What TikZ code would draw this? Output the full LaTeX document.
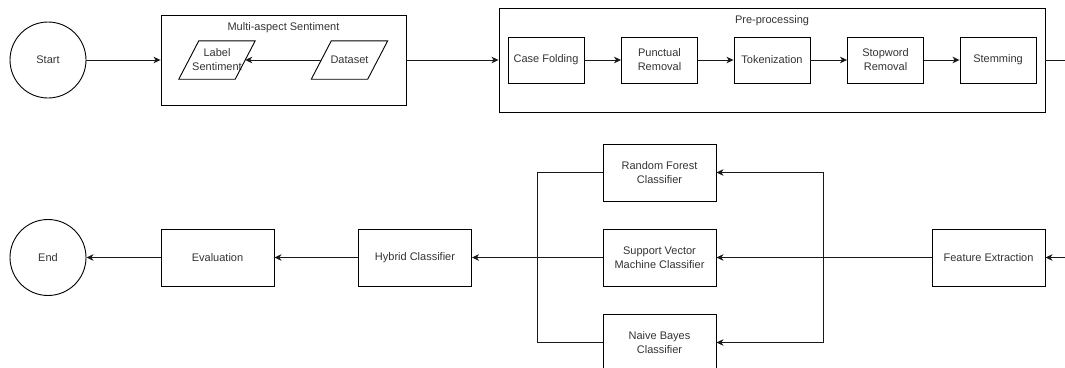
\documentclass[tikz,border=0pt]{standalone}
\usepackage{fontspec}
\setmainfont{Liberation Sans}
\usetikzlibrary{arrows.meta}
\begin{document}
\begin{tikzpicture}[x=1pt,y=-1pt,
  every node/.style={font=\fontsize{11}{14}\selectfont, text=black!80, align=center, inner sep=0pt},
  proc/.style={draw, line width=0.9pt, minimum width=76pt, minimum height=46pt},
  bigproc/.style={draw, line width=0.9pt, minimum width=113pt, minimum height=57pt},
  term/.style={draw, circle, line width=0.9pt, minimum size=76pt},
  grp/.style={draw, line width=0.9pt},
  para/.style={minimum width=76pt, minimum height=38pt},
  conn/.style={line width=0.9pt, draw=black!90},
  arr/.style={conn, -{Stealth[length=7pt,width=6.5pt,inset=2pt]}}
]
\useasboundingbox (0,0) rectangle (1065,367);
\clip (0,0) rectangle (1065,367);

% top row
\node[term] (start) at (48,60) {Start};
\node[grp, minimum width=245pt, minimum height=90pt] (multi) at (283.5,60) {};
\node (multit) at (283.5,28) {Multi-aspect Sentiment};
\node[para] (lab) at (217,60) {Label\\Sentiment};
\draw[line width=0.9pt] (lab.south west) -- ([xshift=-20pt]lab.south east) -- (lab.north east) -- ([xshift=20pt]lab.north west) -- cycle;
\node[para] (ds) at (349.5,60) {Dataset};
\draw[line width=0.9pt] (ds.south west) -- ([xshift=-20pt]ds.south east) -- (ds.north east) -- ([xshift=20pt]ds.north west) -- cycle;

\node[grp, minimum width=546pt, minimum height=104pt] (pre) at (772,60) {};
\node (pret) at (772,21) {Pre-processing};
\node[proc] (cf) at (546,60) {Case Folding};
\node[proc] (pr) at (659.5,60) {Punctual\\Removal};
\node[proc] (tok) at (772,60) {Tokenization};
\node[proc] (sw) at (885.5,60) {Stopword\\Removal};
\node[proc] (stem) at (998,60) {Stemming};
\coordinate (outR) at (1075,60);
\coordinate (inR) at (1075,257.5);

% bottom row
\node[term] (end) at (48,257.5) {End};
\node[bigproc] (eval) at (217.5,257.5) {Evaluation};
\node[bigproc] (hyb) at (415,257.5) {Hybrid Classifier};
\node[bigproc] (rf) at (659.5,172.5) {Random Forest\\Classifier};
\node[bigproc] (svm) at (659.5,257.5) {Support Vector\\Machine Classifier};
\node[bigproc] (nb) at (659.5,342.5) {Naive Bayes\\Classifier};
\node[bigproc] (fe) at (988.5,257.5) {Feature Extraction};
\coordinate (splitx) at (823,257.5);
\coordinate (joinx) at (537,257.5);

% connectors
\draw[arr] (start) -- (multi.west |- start);
\draw[arr] ([xshift=10pt]ds.west) -- ([xshift=-10pt]lab.east);
\draw[arr] (multi.east) -- (pre.west |- multi.east);
\draw[arr] (cf) -- (pr);
\draw[arr] (pr) -- (tok);
\draw[arr] (tok) -- (sw);
\draw[arr] (sw) -- (stem);
\draw[conn] (pre.east) -- (outR) -- (inR);
\draw[arr] (inR) -- (fe.east);
\draw[arr] (fe.west) -- (svm.east);
\draw[arr] (splitx) |- (rf.east);
\draw[arr] (splitx) |- (nb.east);
\draw[conn] (rf.west) -| (joinx);
\draw[conn] (nb.west) -| (joinx);
\draw[conn] (svm.west) -- (joinx);
\draw[arr] (joinx) -- (hyb.east);
\draw[arr] (hyb) -- (eval);
\draw[arr] (eval) -- (end);
\end{tikzpicture}
\end{document}
